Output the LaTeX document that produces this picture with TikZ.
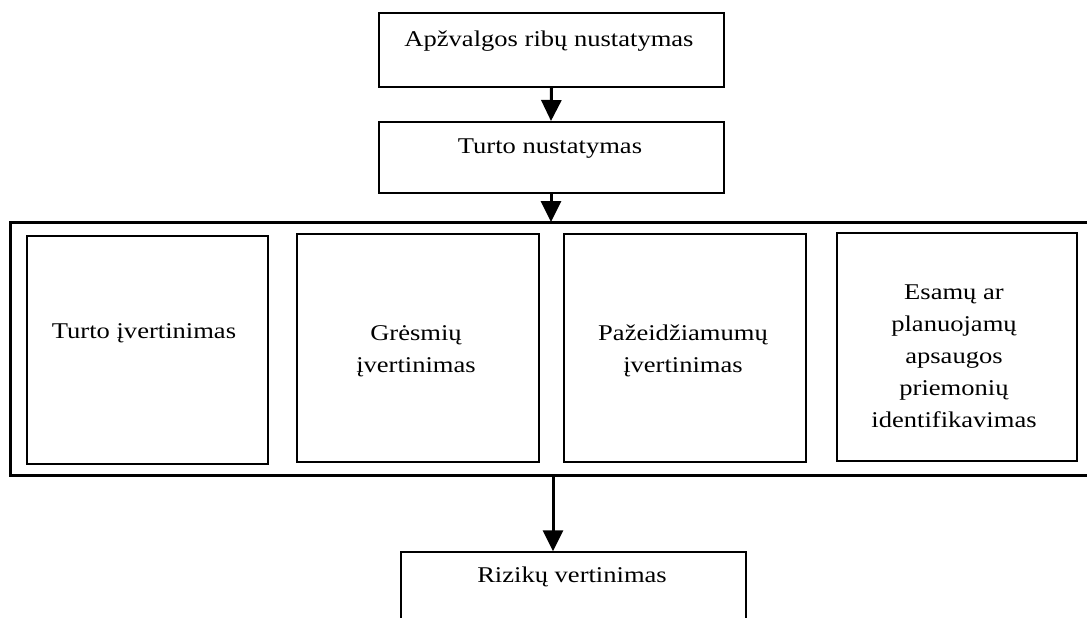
\documentclass[tikz,border=0pt]{standalone}
\usepackage{fontspec}
\setmainfont{Liberation Serif}[FakeStretch=1.18]
\usetikzlibrary{arrows.meta}
\begin{document}
\begin{tikzpicture}[x=1pt,y=-1pt,
  font=\fontsize{22.5}{32}\selectfont,
  topbox/.style={draw, line width=2pt, inner sep=0pt, minimum width=345pt},
  stagebox/.style={draw, line width=2.6pt, inner sep=0pt, minimum height=228pt},
  resultbox/.style={draw, line width=1.5pt, inner sep=0pt, minimum width=345pt, minimum height=120pt},
  frame/.style={line width=3pt},
  txt/.style={inner sep=0pt, align=center, anchor=base},
  flow/.style={line width=3pt, -{Triangle[width=20pt,length=21pt]}}]
  \useasboundingbox (0,0) rectangle (1087,618);

  % upper steps
  \node[topbox, minimum height=74pt] (scope) at (551.5,50) {};
  \node[txt] (scopetxt) at (549,47) {Apžvalgos ribų nustatymas};
  \node[topbox, minimum height=71pt] (assets) at (551,157.5) {};
  \node[txt] (assetstxt) at (550,153) {Turto nustatymas};

  % enclosing frame of the assessment stage (open on the right)
  \draw[frame] (1087,222) -- (10,222) -- (10,475) -- (1087,475);
  \coordinate (frametop) at (10,222);
  \coordinate (framebot) at (553,475);

  % assessment activities (text anchored at the baseline of the last line)
  \node[stagebox, minimum width=241pt] (s1) at (147.5,350) {};
  \node[txt] (s1txt) at (144,338) {Turto įvertinimas};
  \node[stagebox, minimum width=242pt] (s2) at (418,348) {};
  \node[txt] (s2txt) at (416,372) {Grėsmių\\ įvertinimas};
  \node[stagebox, minimum width=242pt] (s3) at (685,348) {};
  \node[txt] (s3txt) at (683,372) {Pažeidžiamumų\\ įvertinimas};
  \node[stagebox, minimum width=240pt] (s4) at (957,347) {};
  \node[txt] (s4txt) at (954,427) {Esamų ar\\ planuojamų\\ apsaugos\\ priemonių\\ identifikavimas};

  % result
  \node[resultbox] (risk) at (573.5,612) {};
  \node[txt] (risktxt) at (572,582) {Rizikų vertinimas};

  % flow arrows
  \draw[flow] (scope.south) -- (assets.north);
  \draw[flow] (assets.south) -- (assets.south |- frametop);
  \draw[flow] (framebot) -- (framebot |- risk.north);
\end{tikzpicture}
\end{document}
